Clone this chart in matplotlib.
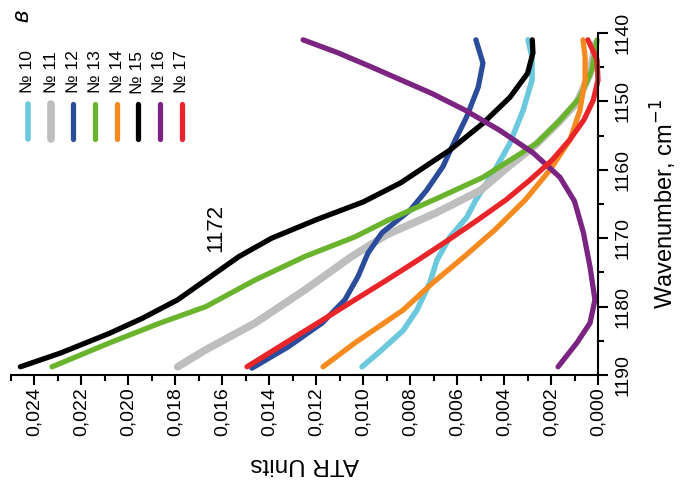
import matplotlib
matplotlib.use('Agg')
import matplotlib.pyplot as plt
from matplotlib.ticker import MultipleLocator, FuncFormatter
from matplotlib.lines import Line2D

plt.rcParams['font.family'] = ['Liberation Sans', 'DejaVu Sans']

# Wavenumber (cm-1) and ATR units
wn_10 = [1188.8, 1186.3, 1183.5, 1180.5, 1176.5, 1173.2, 1169.8, 1166.9, 1164.4, 1160.5, 1156.1, 1151.3, 1146.9, 1143.5, 1141.0]
atr_10 = [0.01005, 0.0092, 0.0083, 0.00771, 0.00716, 0.00686, 0.0063, 0.00558, 0.0052, 0.00447, 0.00375, 0.00319, 0.00281, 0.00281, 0.00298]

wn_11 = [1188.8, 1186.3, 1182.4, 1177.6, 1172.7, 1169.5, 1166.3, 1163.0, 1159.5, 1156.5, 1153.5, 1150.2, 1145.9, 1141.5]
atr_11 = [0.0179, 0.0167, 0.0146, 0.0125, 0.0105, 0.0090, 0.0069, 0.0050, 0.0038, 0.0027, 0.0018, 0.0009, 0.00034, 0.0001]

wn_12 = [1189.0, 1185.9, 1182.4, 1179.0, 1175.6, 1172.2, 1169.2, 1165.9, 1163.0, 1159.5, 1156.5, 1152.3, 1147.9, 1144.4, 1141.0]
atr_12 = [0.01474, 0.0132, 0.01175, 0.01078, 0.01022, 0.0098, 0.0092, 0.0080, 0.0073, 0.0066, 0.0062, 0.0056, 0.0051, 0.0049, 0.0052]

wn_13 = [1188.8, 1185.3, 1182.4, 1180.0, 1176.1, 1172.7, 1169.8, 1167.3, 1164.1, 1161.1, 1158.5, 1156.1, 1152.7, 1149.4, 1145.4, 1141.0]
atr_13 = [0.02325, 0.0208, 0.01865, 0.0167, 0.0146, 0.0125, 0.01035, 0.0089, 0.0068, 0.0049, 0.0037, 0.0026, 0.0016, 0.00077, 0.00026, 0.00004]

wn_14 = [1188.8, 1185.3, 1182.0, 1180.5, 1176.5, 1172.7, 1168.8, 1164.4, 1160.0, 1155.6, 1151.3, 1146.9, 1143.5, 1141.0]
atr_14 = [0.01171, 0.01035, 0.00894, 0.0083, 0.00703, 0.0057, 0.0044, 0.0031, 0.00204, 0.00119, 0.00077, 0.00055, 0.00055, 0.00064]

wn_15 = [1188.8, 1186.8, 1183.9, 1181.7, 1179.0, 1176.1, 1172.7, 1170.0, 1167.3, 1164.7, 1161.9, 1157.1, 1153.2, 1149.4, 1145.9, 1142.9, 1141.0]
atr_15 = [0.0246, 0.0229, 0.0208, 0.0194, 0.0179, 0.0167, 0.0153, 0.0139, 0.0120, 0.0100, 0.0084, 0.0063, 0.0049, 0.00375, 0.0030, 0.00277, 0.0028]

wn_16 = [1141.0, 1142.9, 1145.0, 1147.0, 1148.8, 1151.3, 1154.2, 1157.5, 1161.1, 1164.6, 1169.2, 1174.2, 1179.0, 1182.4, 1185.3, 1188.8]
atr_16 = [0.01256, 0.01107, 0.00963, 0.0083, 0.0071, 0.00565, 0.0042, 0.00277, 0.00162, 0.0010, 0.00062, 0.00034, 0.00013, 0.00034, 0.0009, 0.0017]

wn_17 = [1188.8, 1184.9, 1182.0, 1179.0, 1176.1, 1173.2, 1170.3, 1167.3, 1164.4, 1161.5, 1158.6, 1155.6, 1152.7, 1149.8, 1146.9, 1143.9, 1141.0]
atr_17 = [0.01495, 0.01312, 0.01175, 0.01035, 0.00899, 0.00767, 0.00639, 0.00511, 0.00392, 0.0029, 0.00196, 0.0012, 0.0006, 0.0002, 0.0, 0.00004, 0.00043]

labels = ['№ 10', '№ 11', '№ 12', '№ 13', '№ 14', '№ 15', '№ 16', '№ 17']
colors = ['#6cc8dc', '#bebebe', '#2b4c9b', '#6ab42d', '#f68a1f', '#000000', '#7b2481', '#e8262a']
widths = [4.0, 5.5, 3.8, 3.8, 3.8, 3.8, 3.8, 3.8]
series = [(wn_10, atr_10), (wn_11, atr_11), (wn_12, atr_12), (wn_13, atr_13),
          (wn_14, atr_14), (wn_15, atr_15), (wn_16, atr_16), (wn_17, atr_17)]

fig = plt.figure(figsize=(6.85, 4.92), dpi=100)
ax = fig.add_axes([11 / 685, 1 - 375 / 492, 587 / 685, 342 / 492])

for (wn, atr), c, lw in zip(series, colors, widths):
    ax.plot(atr, wn, color=c, lw=lw, solid_capstyle='round', solid_joinstyle='round', clip_on=False)

ax.set_xlim(0.025, 0.0)
ax.set_ylim(1190, 1140)

ax.spines['left'].set_visible(False)
ax.spines['top'].set_visible(False)
ax.spines['right'].set_linewidth(1.5)
ax.spines['bottom'].set_linewidth(1.5)

ax.yaxis.tick_right()
ax.yaxis.set_label_position('right')
ax.xaxis.set_major_locator(MultipleLocator(0.002))
ax.xaxis.set_minor_locator(MultipleLocator(0.001))
ax.yaxis.set_major_locator(MultipleLocator(10))
ax.yaxis.set_minor_locator(MultipleLocator(5))
ax.xaxis.set_major_formatter(FuncFormatter(lambda v, p: f'{v:.3f}'.replace('.', ',')))
ax.yaxis.set_major_formatter(FuncFormatter(lambda v, p: f'{v:.0f}'))

ax.tick_params(which='both', direction='out', width=1.5, labelsize=14)
ax.tick_params(which='major', length=7)
ax.tick_params(which='minor', length=4)
ax.tick_params(axis='x', labelrotation=90, pad=2)
ax.tick_params(axis='y', labelrotation=90, pad=5)
for t in ax.get_yticklabels():
    t.set_va('center')

ax.set_xlabel('ATR Units', fontsize=17.5, rotation=180, labelpad=12)
ax.set_ylabel('Wavenumber, cm$^{-1}$', fontsize=17, rotation=90, labelpad=12)

# annotation of the shoulder on curve 15
ax.text(0.0163, 1168.5, '1172', fontsize=16, rotation=90, ha='center', va='center')

# rotated legend, drawn by hand
leg_x = [28, 51, 73, 95, 117, 138, 160, 182]
for x, lab, c, lw in zip(leg_x, labels, colors, widths):
    fig.text(x / 685, 1 - 72 / 492, lab, rotation=90, fontsize=12.5, ha='center', va='center')
    fig.add_artist(Line2D([x / 685, x / 685], [1 - 104 / 492, 1 - 139 / 492],
                          color=c, lw=lw, solid_capstyle='round'))

fig.text(22 / 685, 1 - 16 / 492, 'в', rotation=90, fontsize=17, style='italic', ha='center', va='center')

fig.savefig('out.png', dpi=100)
